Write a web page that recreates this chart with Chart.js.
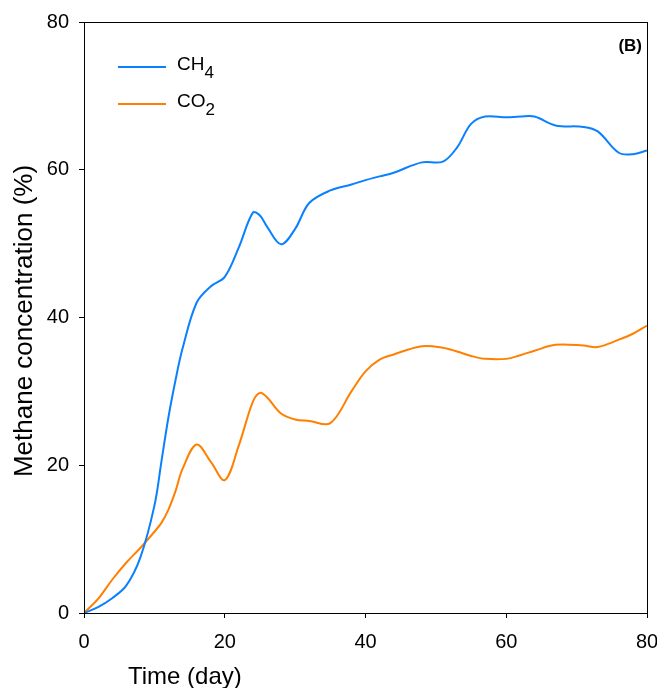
<!DOCTYPE html>
<html>
<head>
<meta charset="utf-8">
<script src="https://cdn.jsdelivr.net/npm/chart.js@4"></script>
<style>
  html, body { margin: 0; padding: 0; background: #fff; }
  canvas { display: block; }
</style>
</head>
<body>
<canvas id="gasChart" width="657" height="688"></canvas>
<script>
// sampling days (x axis)
const days = [0, 2, 4, 6, 8, 10, 11, 12, 13, 14, 16, 18, 20, 22, 24, 25, 26, 28, 30, 32, 35,
  38, 40, 42, 44, 48, 51, 53, 55, 57, 60, 62, 64, 67, 71, 73, 76, 78, 80];

// CH4 concentration (%)
const ch4 = [0, 0.8, 2, 3.7, 7.5, 14.5, 20.5, 26.5, 31.5, 35.8, 42, 44.2, 45.5, 49.5, 54.2, 53.8, 52.3, 49.9, 52, 55.5, 57.2,
  58, 58.6, 59.1, 59.6, 61, 61.1, 63, 66.2, 67.2, 67.1, 67.2, 67.2, 66, 65.8, 65.2, 62.3, 62.1, 62.6];

// CO2 concentration (%)
const co2 = [0, 1.9, 4.5, 6.8, 8.8, 11, 12.2, 14, 16.5, 19.5, 22.8, 20.5, 18, 22.7, 28.6, 29.8, 29.2, 27, 26.2, 26, 25.7,
  30, 32.7, 34.3, 35, 36.1, 35.9, 35.4, 34.8, 34.4, 34.4, 34.9, 35.5, 36.3, 36.2, 36, 37, 37.8, 38.9];

const xTicks = [0, 20, 40, 60, 80];
const yTicks = [0, 20, 40, 60, 80];

const seriesNames = [['CH', '4'], ['CO', '2']];
const seriesColors = ['#0a80ff', '#ff8000'];

function toPoints(values) {
  return days.map((d, i) => ({ x: d, y: values[i] }));
}

// draws frame, legend, panel label and axis titles
const decorations = {
  id: 'decorations',
  afterDraw(chart) {
    const ctx = chart.ctx;
    const a = chart.chartArea;
    ctx.save();

    // box round the plot
    ctx.strokeStyle = '#000';
    ctx.lineWidth = 1;
    ctx.strokeRect(a.left + 0.5, a.top + 0.5, a.right - a.left, a.bottom - a.top);

    // legend
    ctx.lineWidth = 2;
    ctx.fillStyle = '#000';
    ctx.textBaseline = 'alphabetic';
    const rows = [67, 104];
    seriesNames.forEach((name, i) => {
      const y = rows[i];
      ctx.strokeStyle = seriesColors[i];
      ctx.beginPath();
      ctx.moveTo(118, y);
      ctx.lineTo(166, y);
      ctx.stroke();
      ctx.font = '19px "Liberation Sans", Arial, sans-serif';
      ctx.textAlign = 'left';
      ctx.fillText(name[0], 177, y + 3);
      const w = ctx.measureText(name[0]).width;
      ctx.font = '17px "Liberation Sans", Arial, sans-serif';
      ctx.fillText(name[1], 177 + w, y + 11);
    });

    // panel label
    ctx.font = 'bold 17px "Liberation Sans", Arial, sans-serif';
    ctx.textAlign = 'right';
    ctx.fillText('(B)', 642, 51);

    // x title
    ctx.font = '24px "Liberation Sans", Arial, sans-serif';
    ctx.textAlign = 'left';
    ctx.fillText('Time (day)', 128, 684);

    // y title
    ctx.translate(32, 321);
    ctx.rotate(-Math.PI / 2);
    ctx.font = '26px "Liberation Sans", Arial, sans-serif';
    ctx.textAlign = 'center';
    ctx.fillText('Methane concentration (%)', 0, 0);

    ctx.restore();
  }
};

const chart = new Chart(document.getElementById('gasChart').getContext('2d'), {
  type: 'line',
  data: {
    datasets: [
      {
        label: 'CH4',
        data: toPoints(ch4),
        borderColor: seriesColors[0],
        borderWidth: 2,
        pointRadius: 0,
        tension: 0.35,
        fill: false
      },
      {
        label: 'CO2',
        data: toPoints(co2),
        borderColor: seriesColors[1],
        borderWidth: 2,
        pointRadius: 0,
        tension: 0.35,
        fill: false
      }
    ]
  },
  options: {
    responsive: false,
    animation: false,
    devicePixelRatio: 1,
    layout: { padding: { top: 22, right: 10, left: 0, bottom: 0 } },
    plugins: {
      legend: { display: false },
      tooltip: { enabled: false }
    },
    scales: {
      x: {
        type: 'linear',
        min: 0,
        max: 80,
        afterFit(scale) {
          scale.height = 75;
          scale.paddingLeft = 0;
          scale.paddingRight = 0;
        },
        afterBuildTicks(scale) { scale.ticks = xTicks.map(v => ({ value: v })); },
        grid: { drawOnChartArea: false, drawTicks: true, tickLength: 5, color: '#000' },
        border: { display: true, color: '#000', width: 1 },
        ticks: {
          color: '#000',
          padding: 12,
          maxRotation: 0,
          font: { family: '"Liberation Sans", Arial, sans-serif', size: 20 }
        }
      },
      y: {
        min: 0,
        max: 80,
        afterFit(scale) {
          scale.width = 84;
          scale.paddingTop = 0;
          scale.paddingBottom = 0;
        },
        afterBuildTicks(scale) { scale.ticks = yTicks.map(v => ({ value: v })); },
        grid: { drawOnChartArea: false, drawTicks: true, tickLength: 5, color: '#000' },
        border: { display: true, color: '#000', width: 1 },
        ticks: {
          color: '#000',
          padding: 10,
          font: { family: '"Liberation Sans", Arial, sans-serif', size: 20 }
        }
      }
    }
  },
  plugins: [decorations]
});
</script>
</body>
</html>
